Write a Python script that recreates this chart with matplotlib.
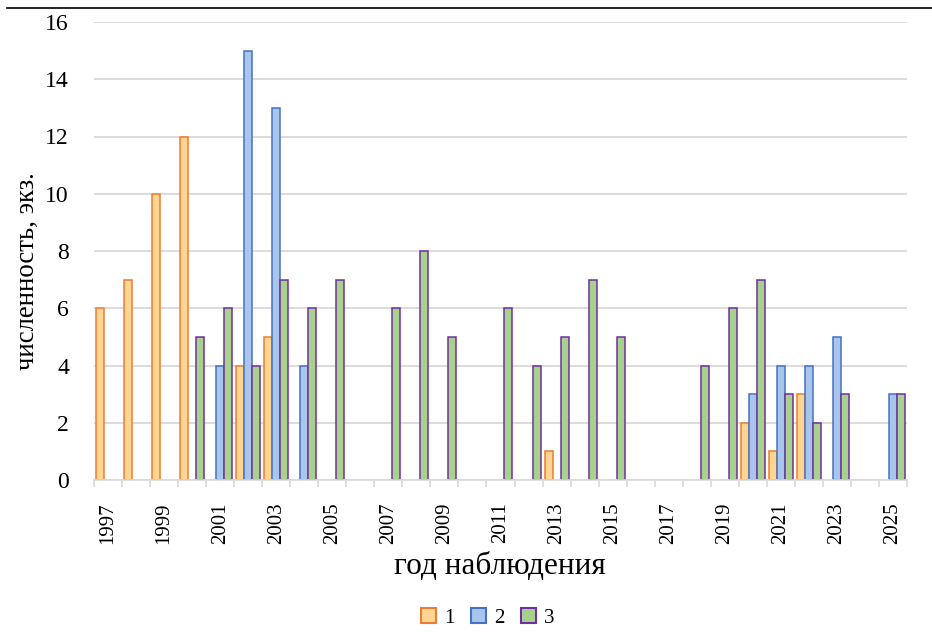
import numpy as np
import matplotlib
matplotlib.use("Agg")
import matplotlib.pyplot as plt
from matplotlib.patches import Patch
from matplotlib.lines import Line2D

# Observation years (one category per year)
years = list(range(1997, 2026))

# Counts per year for each group; None = no record that year
series_1 = [6, 7, 10, 12, None, 4, 5, None, None, None, None, None, None, None,
            None, None, 1, None, None, None, None, None, None, 2, 1, 3, None, None, None]
series_2 = [None, None, None, None, 4, 15, 13, 4, None, None, None, None, None, None,
            None, None, None, None, None, None, None, None, None, 3, 4, 4, 5, None, 3]
series_3 = [None, None, None, 5, 6, 4, 7, 6, 7, None, 6, 8, 5, None,
            6, 4, 5, 7, 5, None, None, 4, 6, 7, 3, 2, 3, None, 3]
series_names = ["1", "2", "3"]

y_ticks = [0, 2, 4, 6, 8, 10, 12, 14, 16]
x_title = "год наблюдения"
y_title = "численность, экз."

fills = ["#FFD591", "#A9C5EB", "#A9D18E"]
edges = ["#ED7D31", "#4472C4", "#7030A0"]

plt.rcParams["font.family"] = ["Liberation Serif", "DejaVu Serif"]

fig = plt.figure(figsize=(9.32, 6.32), dpi=100)
ax = fig.add_axes([94 / 932, 1 - 480 / 632, (907 - 94) / 932, (480 - 22) / 632])

x = np.arange(len(years))
bw = 0.285
for k, vals in enumerate([series_1, series_2, series_3]):
    h = np.array([np.nan if v is None else v for v in vals], dtype=float)
    ax.bar(x + (k - 1) * bw, h, width=bw, color=fills[k], edgecolor=edges[k],
           linewidth=1.1, zorder=3)

ax.set_xlim(-0.5, len(years) - 0.5)
ax.set_ylim(0, 16)
ax.set_yticks(y_ticks)
ax.set_yticklabels([str(t) for t in y_ticks], fontsize=17)
ax.tick_params(axis="y", length=0, pad=18)

# labels at every other category, tick marks on the category boundaries
ax.set_xticks(x[::2])
ax.set_xticklabels([str(y) for y in years[::2]], rotation=90, fontsize=15)
ax.set_xticks(np.arange(len(years) + 1) - 0.5, minor=True)
ax.tick_params(axis="x", which="major", length=0, pad=16)
ax.tick_params(axis="x", which="minor", length=5, color="#d9d9d9", width=1.2)

ax.yaxis.grid(True, color="#d9d9d9", linewidth=1.3, zorder=0)
ax.set_axisbelow(True)
for s in ["top", "right", "left"]:
    ax.spines[s].set_visible(False)
ax.spines["bottom"].set_color("#d9d9d9")
ax.spines["bottom"].set_linewidth(1.2)
ax.spines["bottom"].set_zorder(4)

fig.text(500 / 932, 1 - 566 / 632, x_title, ha="center", va="center", fontsize=22.5)
fig.text(27 / 932, 1 - 271 / 632, y_title, ha="center", va="center",
         rotation=90, fontsize=19.3)

handles = [Patch(facecolor=fills[k], edgecolor=edges[k], linewidth=1.5)
           for k in range(3)]
fig.legend(handles, series_names, loc="center", bbox_to_anchor=(488 / 932, 1 - 618 / 632),
           ncol=3, frameon=False, fontsize=15, handlelength=0.7, handleheight=0.7,
           handletextpad=0.4, columnspacing=0.8)

fig.add_artist(Line2D([7 / 932, 1], [1 - 8 / 632, 1 - 8 / 632], color="black", lw=1.2))

fig.savefig("out.png", dpi=100)
